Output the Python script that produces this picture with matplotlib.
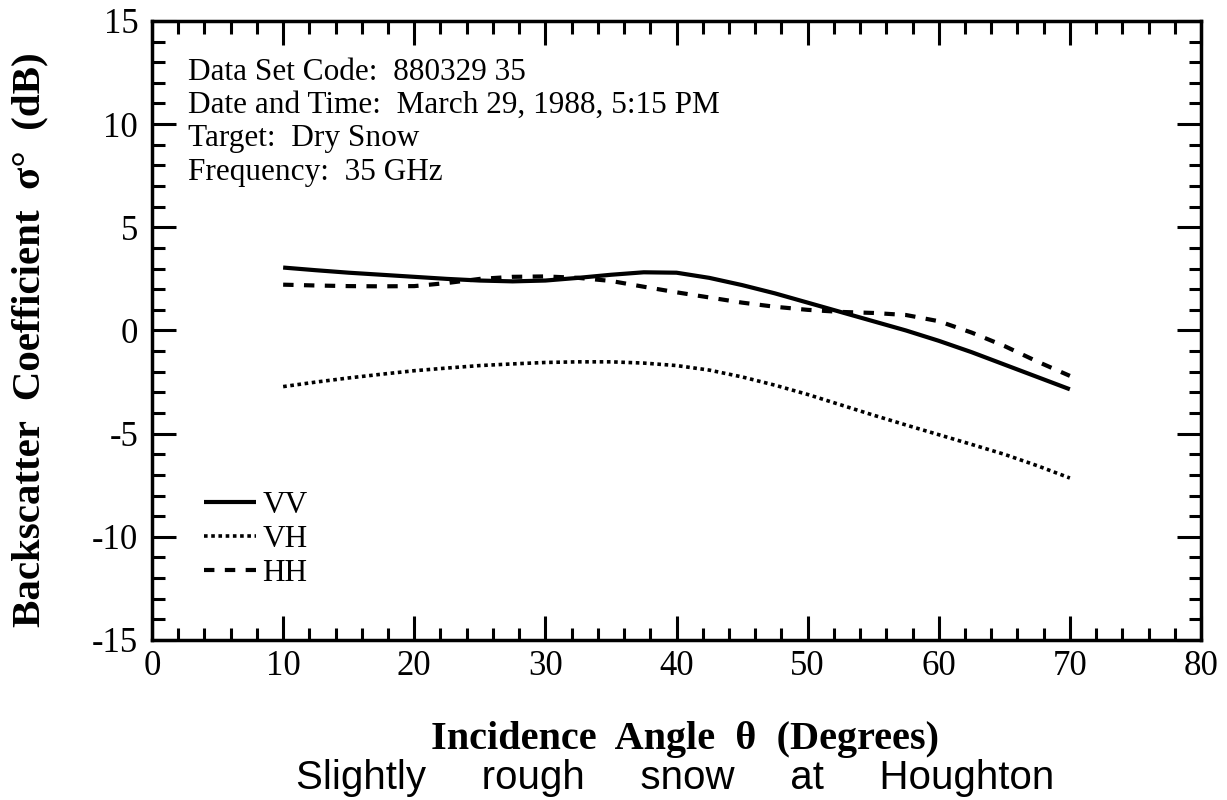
import matplotlib
matplotlib.use('Agg')
import matplotlib.pyplot as plt
from matplotlib.ticker import MultipleLocator

# Valores (angulo de incidencia en grados, sigma0 en dB)
angle = [10, 12.5, 15, 17.5, 20, 22.5, 25, 27.5, 30, 32.5, 35, 37.5, 40,
         42.5, 45, 47.5, 50, 52.5, 55, 57.5, 60, 62.5, 65, 67.5, 70]
vv = [3.05, 2.92, 2.8, 2.7, 2.6, 2.5, 2.42, 2.38, 2.42, 2.55, 2.7, 2.82, 2.8,
      2.55, 2.2, 1.8, 1.35, 0.9, 0.45, 0.0, -0.5, -1.05, -1.65, -2.25, -2.85]
vh = [-2.72, -2.5, -2.3, -2.12, -1.95, -1.82, -1.7, -1.62, -1.55, -1.52, -1.52, -1.58, -1.7,
      -1.92, -2.25, -2.65, -3.1, -3.6, -4.1, -4.58, -5.05, -5.52, -6.0, -6.55, -7.15]
hh = [2.22, 2.18, 2.15, 2.14, 2.15, 2.3, 2.5, 2.6, 2.62, 2.55, 2.4, 2.12, 1.85,
      1.6, 1.35, 1.15, 1.0, 0.9, 0.85, 0.75, 0.45, -0.1, -0.75, -1.5, -2.2]

info_lines = ['Data Set Code:  880329 35',
              'Date and Time:  March 29, 1988, 5:15 PM',
              'Target:  Dry Snow',
              'Frequency:  35 GHz']

plt.rcParams['font.family'] = ['Liberation Serif', 'DejaVu Serif']
plt.rcParams['axes.unicode_minus'] = False

fig = plt.figure(figsize=(12.27, 8), dpi=100)
ax = fig.add_axes([0.1239, 0.2, 0.8549, 0.7738])

ax.plot(angle, vv, color='black', lw=3, label='VV', solid_capstyle='butt')
ax.plot(angle, vh, color='black', lw=2.6, linestyle=(0, (1, 1)), label='VH')
ax.plot(angle, hh, color='black', lw=3, linestyle=(0, (2.5, 2.5)), label='HH')

ax.set_xlim(0, 80)
ax.set_ylim(-15, 15)
ax.xaxis.set_major_locator(MultipleLocator(10))
ax.xaxis.set_minor_locator(MultipleLocator(2))
ax.yaxis.set_major_locator(MultipleLocator(5))
ax.yaxis.set_minor_locator(MultipleLocator(1))
ax.tick_params(which='both', direction='in', top=True, right=True, width=2.2, labelsize=25)
ax.tick_params(which='major', length=17)
ax.tick_params(which='minor', length=9)
ax.tick_params(axis='x', pad=7)
ax.tick_params(axis='y', pad=10)
for sp in ax.spines.values():
    sp.set_linewidth(2.5)

ax.text(0.034, 0.94, '\n'.join(info_lines), transform=ax.transAxes,
        fontsize=22.5, va='top', ha='left', linespacing=1.19)

ax.legend(loc='upper left', bbox_to_anchor=(0.05, 0.24), frameon=False,
          fontsize=22.5, handlelength=1.65, handletextpad=0.2, labelspacing=0.15,
          borderpad=0, borderaxespad=0)

fig.text(0.024, 0.576, 'Backscatter  Coefficient  σ°  (dB)', rotation=90,
         fontsize=29.5, fontweight='bold', ha='center', va='center')
fig.text(0.558, 0.075, 'Incidence  Angle  θ  (Degrees)', fontsize=29,
         fontweight='bold', ha='center', va='center')
fig.text(0.55, 0.0275, 'Slightly     rough     snow     at     Houghton', fontsize=29,
         family=['Liberation Sans', 'DejaVu Sans'], ha='center', va='center')

plt.savefig('out.png', dpi=100)
plt.close()
